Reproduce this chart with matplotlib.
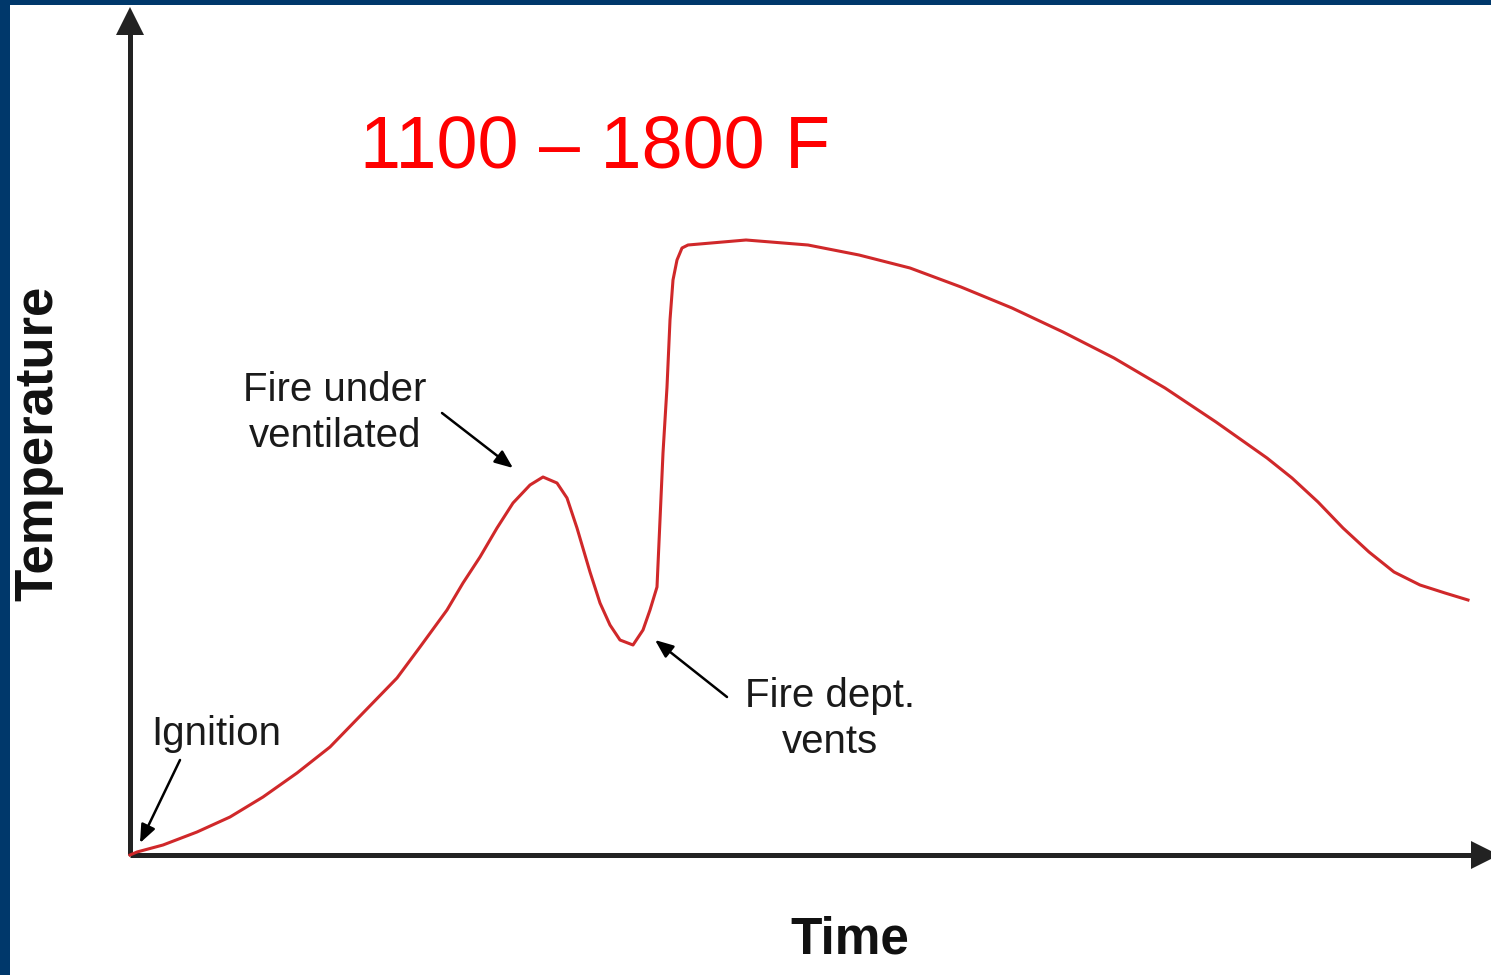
import matplotlib.pyplot as plt
import numpy as np

plt.rcParams['font.family'] = ['Liberation Sans', 'DejaVu Sans']

# curve (arbitrary units; peak temperature ~123)
time = [0.0, 0.7, 3.3, 6.7, 10.0, 13.3, 16.7, 20.0, 23.3, 26.7, 29.0, 31.7,
        33.3, 35.0, 36.7, 38.3, 40.0, 41.3, 42.7, 43.7, 44.7, 46.0, 47.0,
        48.0, 49.0, 50.3, 51.3, 52.0, 52.7, 53.0, 53.3, 53.7, 54.0, 54.3,
        54.7, 55.2, 55.8, 61.6, 67.8, 72.9, 78.0, 83.1, 88.2, 93.3, 98.4,
        103.5, 108.6, 113.7, 116.2, 118.8, 121.3, 123.9, 126.4, 129.0,
        131.5, 133.8]
temperature = [0.0, 0.6, 2.0, 4.6, 7.6, 11.6, 16.4, 21.6, 28.4, 35.4, 41.6,
               49.0, 54.4, 59.6, 65.4, 70.4, 74.0, 75.6, 74.4, 71.4, 65.4,
               56.6, 50.4, 46.0, 43.0, 42.0, 45.0, 49.0, 53.6, 67.0, 80.4,
               93.6, 107.0, 115.0, 119.0, 121.4, 122.0, 123.0, 122.0, 120.0,
               117.4, 113.6, 109.4, 104.6, 99.4, 93.4, 86.6, 79.4, 75.4, 70.6,
               65.4, 60.6, 56.6, 54.0, 52.4, 51.0]

title_text = "1100 \u2013 1800 F"
x_label = "Time"
y_label = "Temperature"
# label, text position, arrow tail, arrow tip
notes = [
    ("Ignition", (8.6, 24.2), (5.0, 19.0), (1.0, 2.4)),
    ("Fire under\nventilated", (20.5, 88.4), (31.2, 88.4), (38.3, 77.4)),
    ("Fire dept.\nvents", (70.0, 27.2), (59.7, 31.6), (52.5, 43.0)),
]

W, H = 1491, 975
fig = plt.figure(figsize=(W / 100, H / 100), dpi=100, facecolor='#00386b')

# white page inside the dark blue frame
bg = fig.add_axes([10 / W, 0, 1 - 10 / W, 1 - 5 / H])
bg.set_facecolor('white')
bg.set_xticks([])
bg.set_yticks([])
for s in bg.spines.values():
    s.set_visible(False)

ax = fig.add_axes([130 / W, 120 / H, 1340 / W, 615 / H])
ax.set_xlim(0, 134)
ax.set_ylim(0, 123)
ax.axis('off')
ax.patch.set_alpha(0)

axis_col = '#222222'
ytop = 166.8
xend = 135.5
ax.plot([0, 0], [0, ytop], color=axis_col, lw=3.6, clip_on=False, solid_capstyle='butt')
ax.plot([0, xend], [0, 0], color=axis_col, lw=3.6, clip_on=False, solid_capstyle='butt')
ax.plot([0], [ytop], marker='^', ms=20, color=axis_col, mew=0, clip_on=False)
ax.plot([xend], [0], marker='>', ms=20, color=axis_col, mew=0, clip_on=False)

ax.plot(time, temperature, color='#d0282a', lw=2.2, clip_on=False,
        solid_joinstyle='round')

for label, txt_pos, tail, tip in notes:
    ax.text(txt_pos[0], txt_pos[1], label, fontsize=29, ha='center', va='center',
            multialignment='center', color='#1a1a1a', linespacing=1.28)
    ax.annotate('', xy=tip, xytext=tail,
                arrowprops=dict(arrowstyle='-|>,head_length=1.1,head_width=0.45',
                                lw=1.8, color='black', shrinkA=0, shrinkB=0,
                                mutation_scale=10))

ax.text(46.5, 137.4, title_text, fontsize=53, color='#ff0000', ha='center',
        va='baseline', clip_on=False)

fig.text(38 / W, 1 - 443 / H, y_label, rotation=90, fontsize=38, fontweight='bold',
         ha='center', va='center', color='#111111')
fig.text(850 / W, 1 - 940 / H, x_label, fontsize=37, fontweight='bold',
         ha='center', va='center', color='#111111')

fig.savefig('out.png', dpi=100, facecolor=fig.get_facecolor())
